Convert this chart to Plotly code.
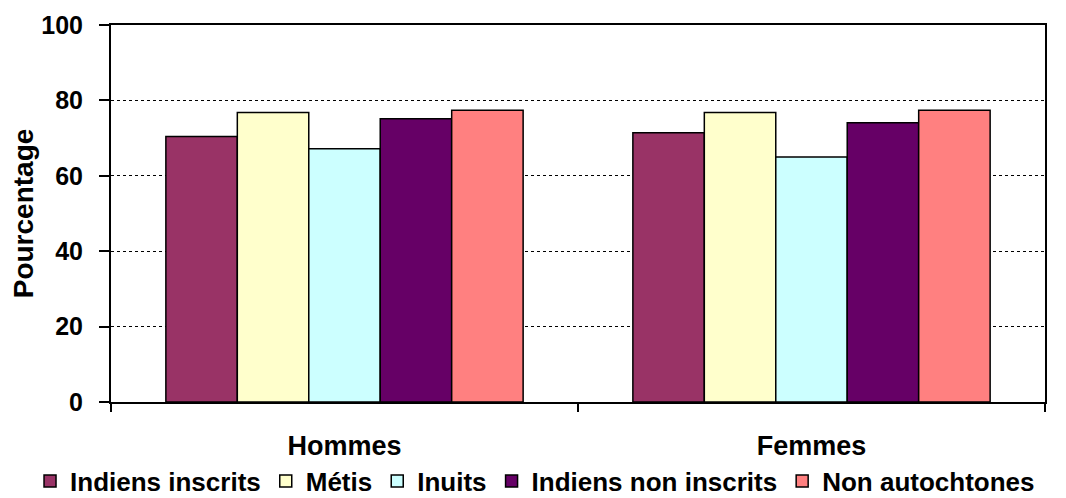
import plotly.graph_objects as go

categories = ["Hommes", "Femmes"]
series_names = ["Indiens inscrits", "Métis", "Inuits", "Indiens non inscrits", "Non autochtones"]
indiens_inscrits = [70.4, 71.4]
metis = [76.8, 76.8]
inuits = [67.2, 65.0]
indiens_non_inscrits = [75.1, 74.1]
non_autochtones = [77.4, 77.4]
colors = ["#993366", "#FFFFCC", "#CCFFFF", "#660066", "#FF8080"]

values = [indiens_inscrits, metis, inuits, indiens_non_inscrits, non_autochtones]
y_ticks = [0, 20, 40, 60, 80, 100]

FONT = "Liberation Sans, Arial, sans-serif"

fig = go.Figure()
for name, vals, col in zip(series_names, values, colors):
    fig.add_trace(go.Bar(
        x=categories, y=vals, name=name,
        marker=dict(color=col, line=dict(color="black", width=1.5)),
    ))

# page body has an 8px default margin, so the figure is drawn offset by (8, 8)
fig.update_layout(
    width=1058, height=490,
    margin=dict(l=103, r=21, t=17, b=96, autoexpand=False),
    paper_bgcolor="white", plot_bgcolor="white",
    barmode="group", bargap=0.235, bargroupgap=0,
    font=dict(family=FONT, size=22, color="black"),
    showlegend=True,
    legend=dict(
        orientation="h", x=-0.0867, xanchor="left", y=-0.2096, yanchor="middle",
        font=dict(family=FONT, size=26, color="black", weight="bold"),
        itemwidth=30, tracegroupgap=0,
    ),
    xaxis=dict(
        automargin=False,
        showline=True, linecolor="black", linewidth=2, mirror=True,
        ticks="outside", tickson="boundaries", ticklen=8, tickwidth=1.5, tickcolor="black",
        tickfont=dict(family=FONT, size=27, color="black", weight="bold"),
        ticklabelstandoff=19,
    ),
    yaxis=dict(
        automargin=False,
        range=[0, 100], tickvals=y_ticks,
        showline=True, linecolor="black", linewidth=2, mirror=True,
        ticks="outside", ticklen=10, tickwidth=1.5, tickcolor="black",
        tickfont=dict(family=FONT, size=25, color="black", weight="bold"),
        ticklabelstandoff=11,
        showgrid=True, gridcolor="black", gridwidth=1, griddash="dot",
        zeroline=False,
        title=dict(text="Pourcentage", font=dict(family=FONT, size=28, color="black", weight="bold"), standoff=9),
    ),
)

fig.write_html("out.html")
